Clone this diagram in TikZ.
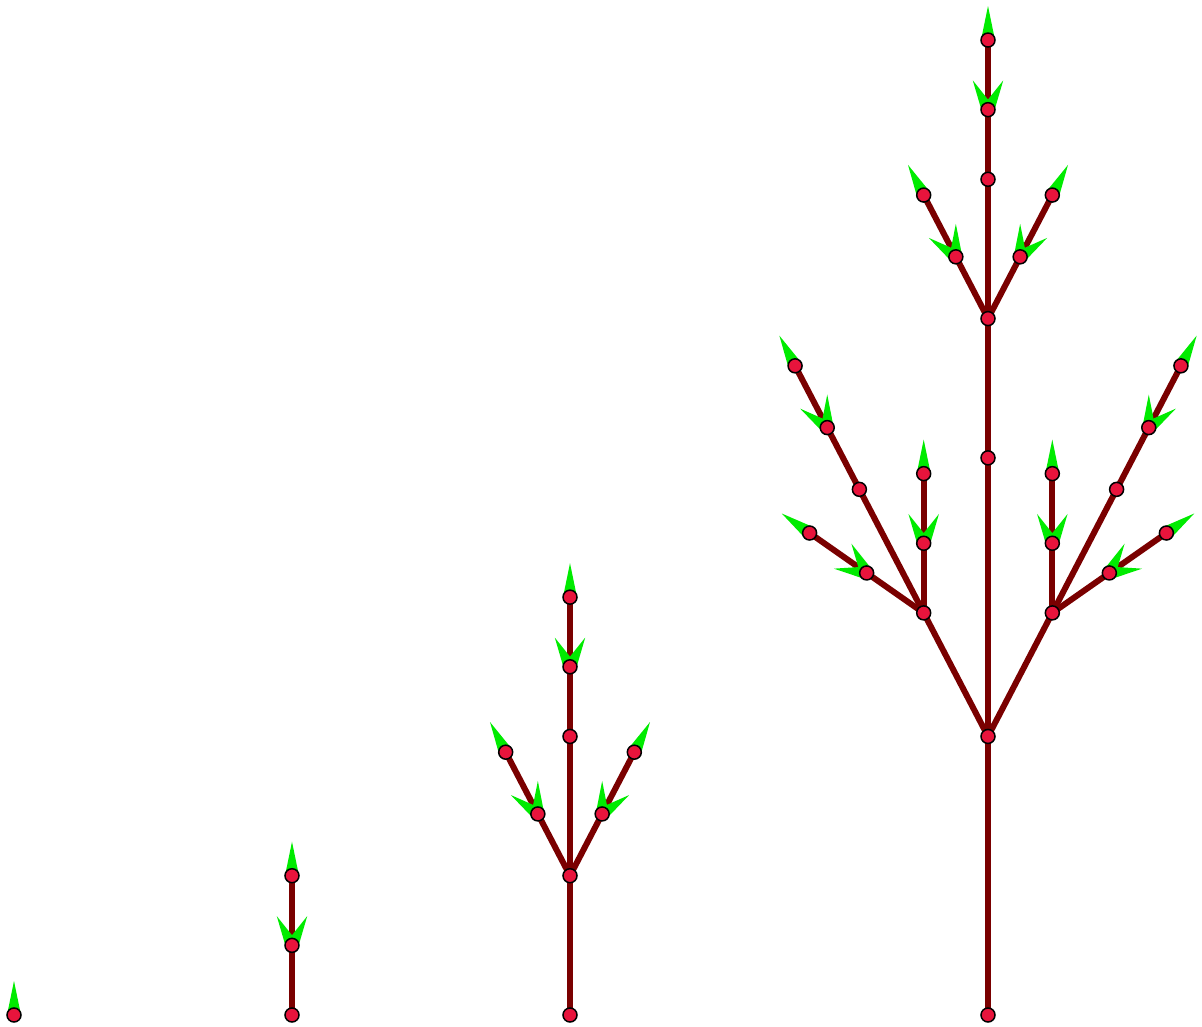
\documentclass[tikz,border=0pt]{standalone}
\usetikzlibrary{calc}
\definecolor{stemcol}{RGB}{122,0,0}
\definecolor{dotcol}{RGB}{232,20,60}
\definecolor{greencol}{RGB}{0,235,0}
\tikzset{
  stem/.style={draw=stemcol,line width=6pt},
  dotnode/.style={circle,fill=dotcol,draw=black,line width=1.5pt,minimum size=14pt,inner sep=0pt},
  greenfill/.style={fill=greencol}
}
\newcommand\budAt[2]{\fill[greenfill] ($(#1)+({#2+90}:7)$) -- ($(#1)+(#2:34)$) -- ($(#1)+({#2-90}:7)$) -- cycle;}
\newcommand\leafOne[2]{\fill[greenfill] ($(#1)+({#2+90}:6.5)$) -- ($(#1)+(#2:33)$) -- ($(#1)+({#2-90}:6.5)$) -- cycle;}
\newcommand\leafPairAt[2]{\leafOne{#1}{#2+27.5}\leafOne{#1}{#2-27.5}}
\newcommand\dotsAt[1]{\foreach \n in {#1}{\node[dotnode] (dot-\n) at (\n) {};}}
\begin{document}
\begin{tikzpicture}[x=1pt,y=1pt]
\useasboundingbox (0,0) rectangle (1202,1026);
\def\L{69.64}
% ---------- coordinates ----------
% stage 0
\coordinate (s0) at (14,11);
% stage 1
\coordinate (s1) at (292,11);
\coordinate (a1) at ($(s1)+(90:\L)$);
\coordinate (a2) at ($(a1)+(90:\L)$);
% stage 2
\coordinate (s2) at (570,11);
\coordinate (b1) at ($(s2)+(90:2*\L)$);
\coordinate (b2) at ($(b1)+(90:2*\L)$);
\coordinate (b3) at ($(b2)+(90:\L)$);
\coordinate (b4) at ($(b3)+(90:\L)$);
\coordinate (bl1) at ($(b1)+(117.5:\L)$);
\coordinate (bl2) at ($(bl1)+(117.5:\L)$);
\coordinate (br1) at ($(b1)+(62.5:\L)$);
\coordinate (br2) at ($(br1)+(62.5:\L)$);
% stage 3
\coordinate (s3) at (988,11);
\coordinate (c1) at ($(s3)+(90:4*\L)$);
\coordinate (c2) at ($(c1)+(90:4*\L)$);
\coordinate (c3) at ($(c2)+(90:2*\L)$);
\coordinate (c4) at ($(c3)+(90:2*\L)$);
\coordinate (c5) at ($(c4)+(90:\L)$);
\coordinate (c6) at ($(c5)+(90:\L)$);
\coordinate (tl1) at ($(c3)+(117.5:\L)$);
\coordinate (tl2) at ($(tl1)+(117.5:\L)$);
\coordinate (tr1) at ($(c3)+(62.5:\L)$);
\coordinate (tr2) at ($(tr1)+(62.5:\L)$);
% left big branch
\coordinate (dl1) at ($(c1)+(117.5:2*\L)$);
\coordinate (dl2) at ($(dl1)+(117.5:2*\L)$);
\coordinate (dl3) at ($(dl2)+(117.5:\L)$);
\coordinate (dl4) at ($(dl3)+(117.5:\L)$);
\coordinate (el1) at ($(dl1)+(90:\L)$);
\coordinate (el2) at ($(el1)+(90:\L)$);
\coordinate (fl1) at ($(dl1)+(145:\L)$);
\coordinate (fl2) at ($(fl1)+(145:\L)$);
% right big branch
\coordinate (dr1) at ($(c1)+(62.5:2*\L)$);
\coordinate (dr2) at ($(dr1)+(62.5:2*\L)$);
\coordinate (dr3) at ($(dr2)+(62.5:\L)$);
\coordinate (dr4) at ($(dr3)+(62.5:\L)$);
\coordinate (er1) at ($(dr1)+(90:\L)$);
\coordinate (er2) at ($(er1)+(90:\L)$);
\coordinate (fr1) at ($(dr1)+(35:\L)$);
\coordinate (fr2) at ($(fr1)+(35:\L)$);
% ---------- stems ----------
\path[stem] (s1) -- (a1) -- (a2);
\path[stem] (s2) -- (b1) -- (b2) -- (b3) -- (b4);
\path[stem] (b1) -- (bl1) -- (bl2);
\path[stem] (b1) -- (br1) -- (br2);
\path[stem] (s3) -- (c1) -- (c2) -- (c3) -- (c4) -- (c5) -- (c6);
\path[stem] (c3) -- (tl1) -- (tl2);
\path[stem] (c3) -- (tr1) -- (tr2);
\path[stem] (c1) -- (dl1) -- (dl2) -- (dl3) -- (dl4);
\path[stem] (dl1) -- (el1) -- (el2);
\path[stem] (dl1) -- (fl1) -- (fl2);
\path[stem] (c1) -- (dr1) -- (dr2) -- (dr3) -- (dr4);
\path[stem] (dr1) -- (er1) -- (er2);
\path[stem] (dr1) -- (fr1) -- (fr2);
% ---------- buds ----------
\budAt{s0}{90}
\budAt{a2}{90}
\budAt{b4}{90}
\budAt{bl2}{117.5}
\budAt{br2}{62.5}
\budAt{c6}{90}
\budAt{tl2}{117.5}
\budAt{tr2}{62.5}
\budAt{dl4}{117.5}
\budAt{el2}{90}
\budAt{fl2}{145}
\budAt{dr4}{62.5}
\budAt{er2}{90}
\budAt{fr2}{35}
% ---------- leaves ----------
\leafPairAt{a1}{90}
\leafPairAt{b3}{90}
\leafPairAt{bl1}{117.5}
\leafPairAt{br1}{62.5}
\leafPairAt{c5}{90}
\leafPairAt{tl1}{117.5}
\leafPairAt{tr1}{62.5}
\leafPairAt{dl3}{117.5}
\leafPairAt{el1}{90}
\leafPairAt{fl1}{145}
\leafPairAt{dr3}{62.5}
\leafPairAt{er1}{90}
\leafPairAt{fr1}{35}
% ---------- dots ----------
\dotsAt{s0,s1,a1,a2,s2,b1,b2,b3,b4,bl1,bl2,br1,br2}
\dotsAt{s3,c1,c2,c3,c4,c5,c6,tl1,tl2,tr1,tr2}
\dotsAt{dl1,dl2,dl3,dl4,el1,el2,fl1,fl2,dr1,dr2,dr3,dr4,er1,er2,fr1,fr2}
\end{tikzpicture}
\end{document}
